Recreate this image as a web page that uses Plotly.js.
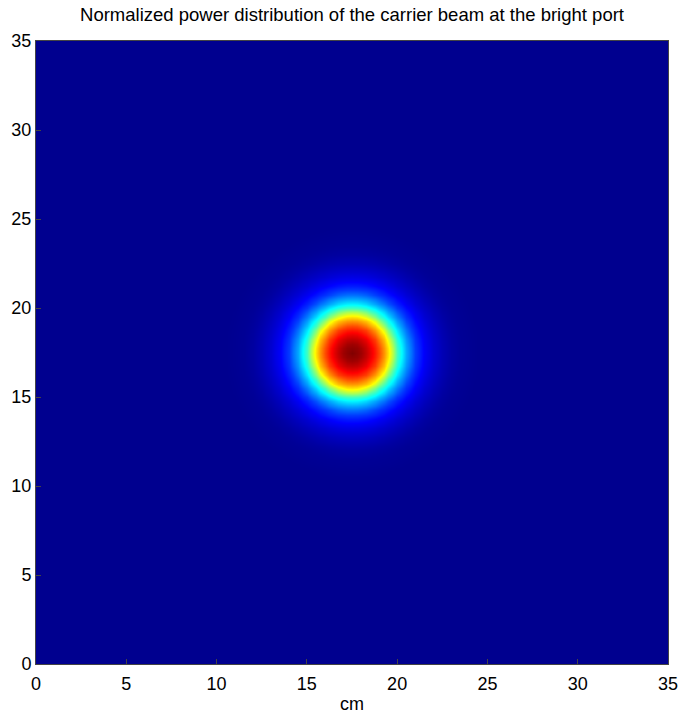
<!DOCTYPE html>
<html>
<head>
<meta charset="utf-8">
<script src="https://cdn.plot.ly/plotly-3.0.1.min.js"></script>
<style>html,body{margin:0;padding:0;background:#fff;}#chart{width:679px;height:714px;}</style>
</head>
<body>
<div id="chart"></div>
<script>
// Beam centre (cm) and grid extent
var beamCenterX = 17.5;
var beamCenterY = 17.5;
var gridX = [0, 35];
var gridY = [0, 35];
// Radial power profile (radius in cm, normalized power)
var profileRadius = [0, 0.5, 1.0, 1.5, 2.0, 2.5, 3.0, 3.5, 4.0, 4.5, 5.0, 5.5, 6.0, 7.0, 40];
var profilePower  = [1.0, 0.97, 0.90, 0.80, 0.65, 0.43, 0.28, 0.17, 0.105, 0.065, 0.038, 0.018, 0.007, 0.0, 0.0];
var xTicks = [0, 5, 10, 15, 20, 25, 30, 35];
var yTicks = [0, 5, 10, 15, 20, 25, 30, 35];

function powerAt(r) {
  for (var i = 1; i < profileRadius.length; i++) {
    if (r <= profileRadius[i]) {
      var t = (r - profileRadius[i-1]) / (profileRadius[i] - profileRadius[i-1]);
      return profilePower[i-1] + t * (profilePower[i] - profilePower[i-1]);
    }
  }
  return 0;
}
var step = 0.25;
var xs = [], ys = [], z = [];
for (var v = gridX[0]; v <= gridX[1] + 1e-9; v += step) xs.push(+v.toFixed(4));
for (var w = gridY[0]; w <= gridY[1] + 1e-9; w += step) ys.push(+w.toFixed(4));
for (var j = 0; j < ys.length; j++) {
  var row = [];
  for (var i = 0; i < xs.length; i++) {
    var dx = xs[i] - beamCenterX, dy = ys[j] - beamCenterY;
    row.push(powerAt(Math.sqrt(dx*dx + dy*dy)));
  }
  z.push(row);
}
var jet = [
  [0, 'rgb(0,0,143)'],
  [7/63, 'rgb(0,0,255)'],
  [23/63, 'rgb(0,255,255)'],
  [39/63, 'rgb(255,255,0)'],
  [55/63, 'rgb(255,0,0)'],
  [1, 'rgb(128,0,0)']
];
var trace = {
  type: 'heatmap', x: xs, y: ys, z: z,
  colorscale: jet, zmin: 0, zmax: 1, zsmooth: 'best', showscale: false
};
var fam = 'Liberation Sans, Arial, sans-serif';
var layout = {
  width: 679, height: 714,
  margin: {l: 36, r: 11, t: 41, b: 50, pad: 0},
  paper_bgcolor: '#fff', plot_bgcolor: '#fff',
  font: {family: fam, size: 18, color: '#000'},
  title: {text: 'Normalized power distribution of the carrier beam at the bright port',
          font: {family: fam, size: 18.5, color: '#000'}, x: 0.5, xanchor: 'center', y: 0.98, yanchor: 'middle', xref: 'paper'},
  xaxis: {range: [0, 35], tickvals: xTicks, ticktext: xTicks.map(String), ticks: 'inside', ticklen: 5,
          tickcolor: '#444', linecolor: '#444', linewidth: 1, showline: true, mirror: true,
          showgrid: false, zeroline: false, tickfont: {family: fam, size: 18, color: '#000'},
          ticklabelstandoff: 3,
          title: {text: 'cm', font: {family: fam, size: 18, color: '#000'}, standoff: 5}},
  yaxis: {range: [0, 35], tickvals: yTicks, ticktext: yTicks.map(String), ticks: 'inside', ticklen: 5,
          tickcolor: '#444', linecolor: '#444', linewidth: 1, showline: true, mirror: true,
          showgrid: false, zeroline: false, tickfont: {family: fam, size: 18, color: '#000'}}
};
Plotly.newPlot('chart', [trace], layout, {staticPlot: true, displayModeBar: false});
</script>
</body>
</html>
